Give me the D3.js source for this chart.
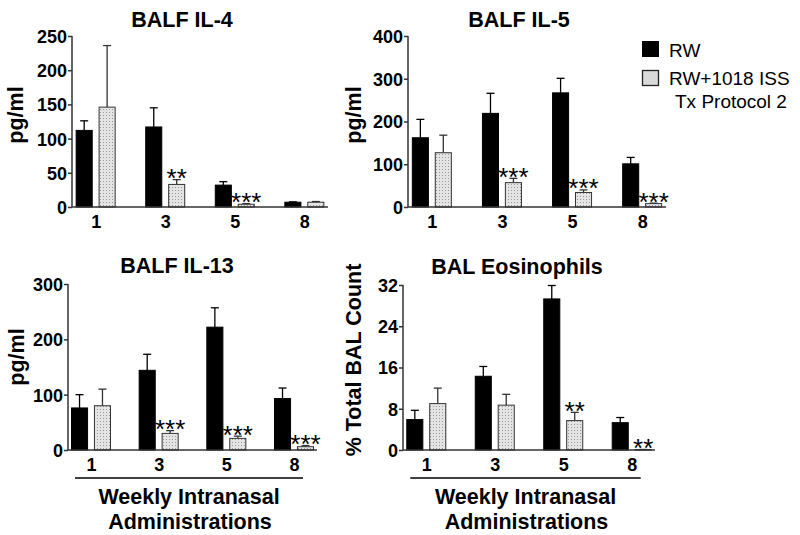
<!DOCTYPE html>
<html>
<head>
<meta charset="utf-8">
<script src="https://d3js.org/d3.v7.min.js"></script>
<style>
  body { margin: 0; background: #fff; }
  svg { display: block; font-family: "Liberation Sans", Arial, sans-serif; }
  .tick text { font-weight: bold; font-size: 18px; fill: #000; }
</style>
</head>
<body>
<div id="chart"></div>
<script>
// weeks of intranasal administration
const weeks = ["1", "3", "5", "8"];

// BALF IL-4 (pg/ml)
const il4RW = [112, 117, 32, 7];
const il4RWSem = [14, 28, 5, 0.5];
const il4ISS = [146, 33, 4, 7];
const il4ISSSem = [90, 7, 1, 1];
const il4Stars = ["", "**", "***", ""];

// BALF IL-5 (pg/ml)
const il5RW = [162, 219, 267, 101];
const il5RWSem = [43, 47, 34, 15];
const il5ISS = [127, 57, 34, 8];
const il5ISSSem = [41, 10, 6, 1];
const il5Stars = ["", "***", "***", "***"];

// BALF IL-13 (pg/ml)
const il13RW = [76, 144, 222, 93];
const il13RWSem = [24, 29, 35, 19];
const il13ISS = [80, 30, 21, 6];
const il13ISSSem = [30, 5, 4, 2];
const il13Stars = ["", "***", "***", "***"];

// BAL eosinophils (% total BAL count)
const eosRW = [5.9, 14.3, 29.3, 5.3];
const eosRWSem = [1.8, 1.9, 2.6, 1.0];
const eosISS = [9.0, 8.7, 5.7, 0.1];
const eosISSSem = [3.0, 2.1, 1.6, 0];
const eosStars = ["", "", "**", "**"];

const seriesNames = ["RW", "RW+1018 ISS"];

const svg = d3.select("#chart").append("svg")
  .attr("width", 800).attr("height", 535);

// dotted fill for the treated group
const pat = svg.append("defs").append("pattern")
  .attr("id", "dots").attr("width", 3).attr("height", 3)
  .attr("patternUnits", "userSpaceOnUse");
pat.append("rect").attr("width", 3).attr("height", 3).attr("fill", "#e4e4e4");
pat.append("rect").attr("x", 1).attr("y", 1).attr("width", 1).attr("height", 1).attr("fill", "#9a9a9a");

const panels = [
  { title: "BALF IL-4", ylab: "pg/ml", rw: il4RW, rwSem: il4RWSem, iss: il4ISS, issSem: il4ISSSem, stars: il4Stars,
    max: 250, step: 50, x0: 72, x1: 328, yTop: 36, yBot: 207, titleX: 182, titleDy: 9.5, ylabX: 15, ylabY: 115, bottom: false },
  { title: "BALF IL-5", ylab: "pg/ml", rw: il5RW, rwSem: il5RWSem, iss: il5ISS, issSem: il5ISSSem, stars: il5Stars,
    max: 400, step: 100, x0: 408, x1: 666, yTop: 36, yBot: 207, titleX: 519, titleDy: 9.5, ylabX: 353, ylabY: 115, bottom: false },
  { title: "BALF IL-13", ylab: "pg/ml", rw: il13RW, rwSem: il13RWSem, iss: il13ISS, issSem: il13ISSSem, stars: il13Stars,
    max: 300, step: 100, x0: 68, x1: 317, yTop: 284, yBot: 450, titleX: 177, titleDy: 11, ylabX: 16, ylabY: 357, bottom: true },
  { title: "BAL Eosinophils", ylab: "% Total BAL Count", rw: eosRW, rwSem: eosRWSem, iss: eosISS, issSem: eosISSSem, stars: eosStars,
    max: 32, step: 8, x0: 403, x1: 655, yTop: 285, yBot: 450, titleX: 517, titleDy: 11, ylabX: 353, ylabY: 360, bottom: true }
];

panels.forEach(p => {
  const g = svg.append("g");
  const x = d3.scalePoint().domain(weeks).range([p.x0, p.x1]).padding(0.34);
  const inner = d3.scaleBand().domain(seriesNames).range([-19.5, 19.5]).paddingInner(0.3);
  const y = d3.scaleLinear().domain([0, p.max]).range([p.yBot, p.yTop]);

  const rows = [];
  weeks.forEach((w, i) => {
    rows.push({ w: w, s: seriesNames[0], v: p.rw[i], e: p.rwSem[i], star: "" });
    rows.push({ w: w, s: seriesNames[1], v: p.iss[i], e: p.issSem[i], star: p.stars[i] });
  });
  const cx = d => x(d.w) + inner(d.s) + inner.bandwidth() / 2;

  // error bars (upper only)
  const eb = g.selectAll(".err").data(rows).join("g").attr("class", "err")
    .attr("stroke", d => d.s === "RW" ? "#000" : "#333").attr("stroke-width", 1.3);
  eb.append("line")
    .attr("x1", cx).attr("x2", cx)
    .attr("y1", d => y(d.v)).attr("y2", d => y(d.v + d.e));
  eb.append("line")
    .attr("x1", d => cx(d) - 4).attr("x2", d => cx(d) + 4)
    .attr("y1", d => y(d.v + d.e)).attr("y2", d => y(d.v + d.e));

  g.selectAll(".bar").data(rows).join("rect").attr("class", "bar")
    .attr("x", d => x(d.w) + inner(d.s))
    .attr("width", inner.bandwidth())
    .attr("y", d => y(d.v))
    .attr("height", d => y(0) - y(d.v))
    .attr("fill", d => d.s === "RW" ? "#000" : "url(#dots)")
    .attr("stroke", d => d.s === "RW" ? "#000" : "#333")
    .attr("stroke-width", 1);

  // significance stars
  g.selectAll(".star").data(rows.filter(d => d.star)).join("text").attr("class", "star")
    .attr("x", cx)
    .attr("y", d => y(d.v + d.e) - 7.5 + 15)
    .attr("text-anchor", "middle")
    .attr("font-size", 26)
    .text(d => d.star);

  // axes
  const yAxis = d3.axisLeft(y).tickValues(d3.range(0, p.max + 1, p.step)).tickSize(4).tickPadding(1);
  const ya = g.append("g").attr("transform", `translate(${p.x0},0)`).call(yAxis);
  ya.select(".domain").attr("stroke", "#333").attr("stroke-width", 1.5).attr("d", `M0,${p.yTop}V${p.yBot}`);
  ya.selectAll(".tick line").attr("stroke", "#333").attr("stroke-width", 1.5);
  ya.selectAll(".tick text").attr("dy", "0.36em");

  const xAxis = d3.axisBottom(x).tickSize(0).tickPadding(8);
  const xa = g.append("g").attr("transform", `translate(0,${p.yBot})`).call(xAxis);
  xa.select(".domain").attr("stroke", "#333").attr("stroke-width", 1.5).attr("d", `M${p.x0},0H${p.x1}`);
  xa.selectAll(".tick text").attr("dy", "0.71em");

  g.append("text").attr("x", p.titleX).attr("y", p.yTop - p.titleDy)
    .attr("text-anchor", "middle").attr("font-weight", "bold").attr("font-size", 21.5)
    .text(p.title);

  g.append("text")
    .attr("transform", `translate(${p.ylabX + 8},${p.ylabY}) rotate(-90)`)
    .attr("text-anchor", "middle").attr("font-weight", "bold").attr("font-size", 21.5)
    .text(p.ylab);

  if (p.bottom) {
    const x0 = x(weeks[0]) - 16, x1 = x(weeks[3]) + 9;
    g.append("line").attr("x1", x0).attr("x2", x1).attr("y1", 478).attr("y2", 478)
      .attr("stroke", "#000").attr("stroke-width", 1.5);
    const mid = (x0 + x1) / 2;
    g.append("text").attr("x", mid).attr("y", 504).attr("text-anchor", "middle")
      .attr("font-weight", "bold").attr("font-size", 21.5).text("Weekly Intranasal");
    g.append("text").attr("x", mid + 1).attr("y", 529).attr("text-anchor", "middle")
      .attr("font-weight", "bold").attr("font-size", 21.5).text("Administrations");
  }
});

// legend
const leg = svg.append("g");
leg.append("rect").attr("x", 642.5).attr("y", 41.5).attr("width", 16).attr("height", 15)
  .attr("fill", "#000").attr("stroke", "#000");
leg.append("text").attr("x", 669).attr("y", 56.5).attr("font-size", 19).text(seriesNames[0]);
leg.append("rect").attr("x", 642.5).attr("y", 70.5).attr("width", 16).attr("height", 15)
  .attr("fill", "#d9d9d9").attr("stroke", "#222").attr("stroke-width", 1.3);
leg.append("text").attr("x", 669).attr("y", 85).attr("font-size", 19).text("RW+1018 ISS");
leg.append("text").attr("x", 675).attr("y", 108).attr("font-size", 19).text("Tx Protocol 2");
</script>
</body>
</html>
